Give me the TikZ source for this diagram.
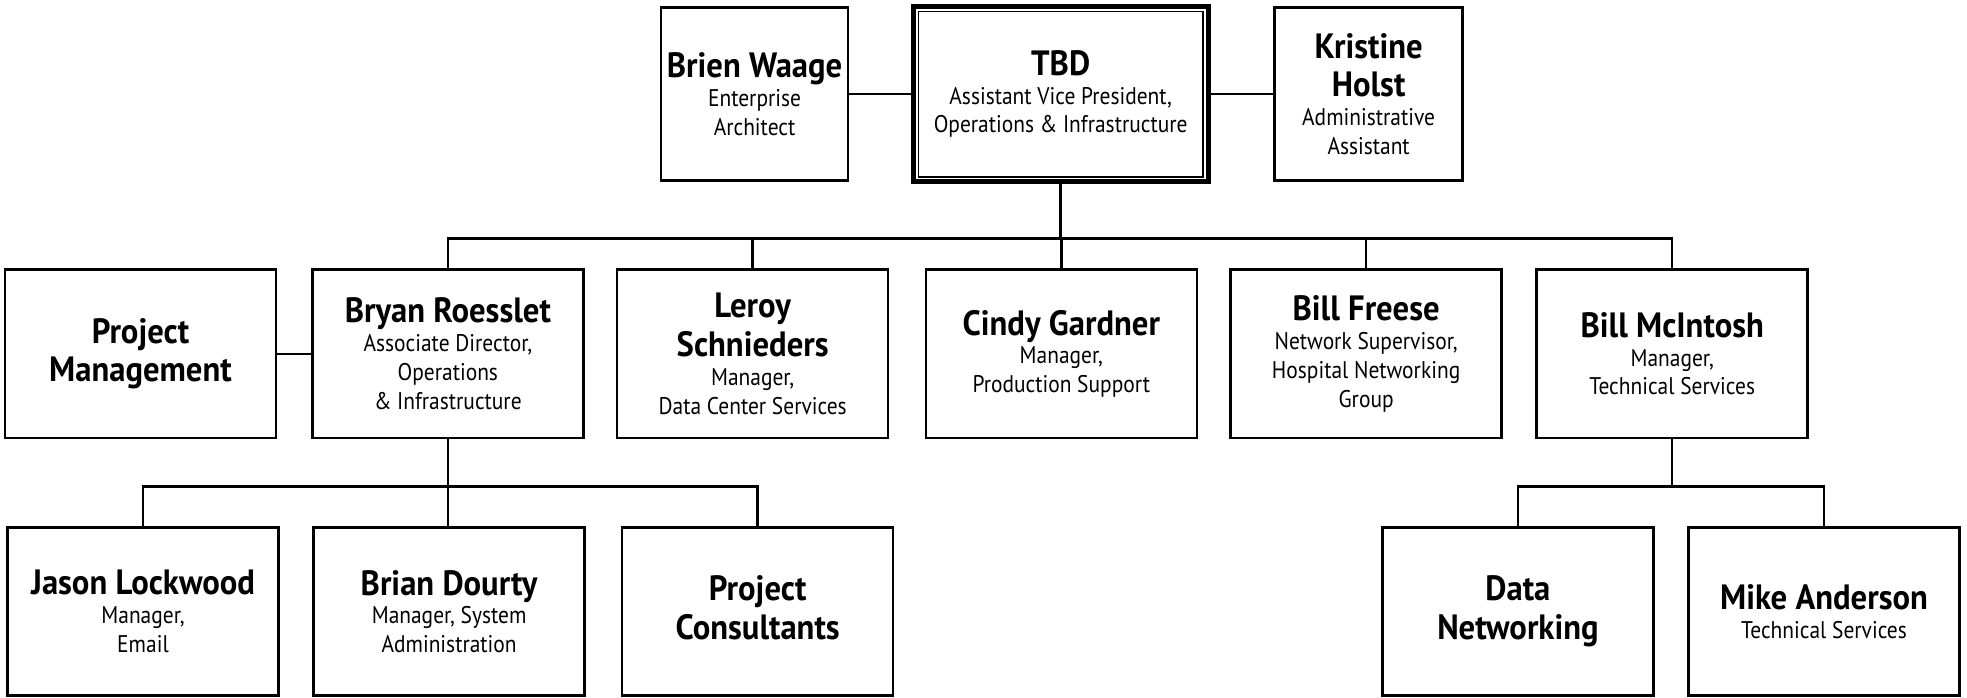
\documentclass[tikz,border=0pt]{standalone}
\usepackage{fontspec}
\setmainfont{PT Sans}[FakeStretch=0.89, BoldFeatures={FakeStretch=0.93}]
\newcommand{\nm}[1]{{\fontsize{14}{15}\selectfont\bfseries\rule[-3pt]{0pt}{12.3pt}#1}}
\begin{document}
\begin{tikzpicture}[x=0.5pt,y=-0.5pt,
  orgbox/.style={draw, line width=1pt, align=center, inner sep=0pt,
    minimum width=108pt, minimum height=67pt, font=\fontsize{9.6}{11.5}\selectfont},
  topbox/.style={orgbox, minimum width=74.5pt, minimum height=69pt},
  conn/.style={line width=1pt}]
\useasboundingbox (0,0) rectangle (1568,556);
% top row
\node[topbox] (bw) at (601.5,75) {\nm{Brien Waage}\\Enterprise\\Architect};
\node[orgbox, line width=2pt, minimum width=117.5pt, minimum height=70pt] (tbd) at (845.5,75)
  {\nm{TBD}\\Assistant Vice President,\\Operations \& Infrastructure};
\draw[line width=0.6pt] ([shift={(3pt,-3pt)}]tbd.north west) rectangle ([shift={(-3pt,3pt)}]tbd.south east);
\node[topbox, minimum width=75pt] (kh) at (1091,75) {\nm{Kristine}\\[1.5pt]\nm{Holst}\\Administrative\\Assistant};
% second row
\node[orgbox] (pm) at (112,282) {\nm{Project}\\[1.5pt]\nm{Management}};
\node[orgbox] (br) at (357,282) {\nm{Bryan Roesslet}\\Associate Director,\\Operations\\\& Infrastructure};
\node[orgbox] (ls) at (600,282) {\nm{Leroy}\\[1.5pt]\nm{Schnieders}\\Manager,\\Data Center Services};
\node[orgbox] (cg) at (846,282) {\nm{Cindy Gardner}\\Manager,\\Production Support};
\node[orgbox] (bf) at (1089,282) {\nm{Bill Freese}\\Network Supervisor,\\Hospital Networking\\Group};
\node[orgbox] (bm) at (1333,282) {\nm{Bill McIntosh}\\Manager,\\Technical Services};
% third row
\node[orgbox] (jl) at (114,487.5) {\nm{Jason Lockwood}\\Manager,\\Email};
\node[orgbox] (bd) at (358,487.5) {\nm{Brian Dourty}\\Manager, System\\Administration};
\node[orgbox] (pc) at (604,487.5) {\nm{Project}\\[1.5pt]\nm{Consultants}};
\node[orgbox] (dn) at (1210,487.5) {\nm{Data}\\[1.5pt]\nm{Networking}};
\node[orgbox] (ma) at (1454,487.5) {\nm{Mike Anderson}\\Technical Services};
% connectors
\draw[conn] (bw) -- (tbd);
\draw[conn] (tbd) -- (kh);
\draw[conn] (pm) -- (br);
\draw[conn] (tbd.south) -- ++(0,43) coordinate (bus1) -| (br.north);
\foreach \n in {ls,cg,bf,bm} \draw[conn] (bus1) -| (\n.north);
\draw[conn] (br.south) -- ++(0,38) coordinate (bus2) -| (jl.north);
\draw[conn] (bus2) -| (pc.north);
\draw[conn] (br.south) -- (br.south |- bd.north);
\draw[conn] (bm.south) -- ++(0,38) coordinate (bus3) -| (dn.north);
\draw[conn] (bus3) -| (ma.north);
\end{tikzpicture}
\end{document}
